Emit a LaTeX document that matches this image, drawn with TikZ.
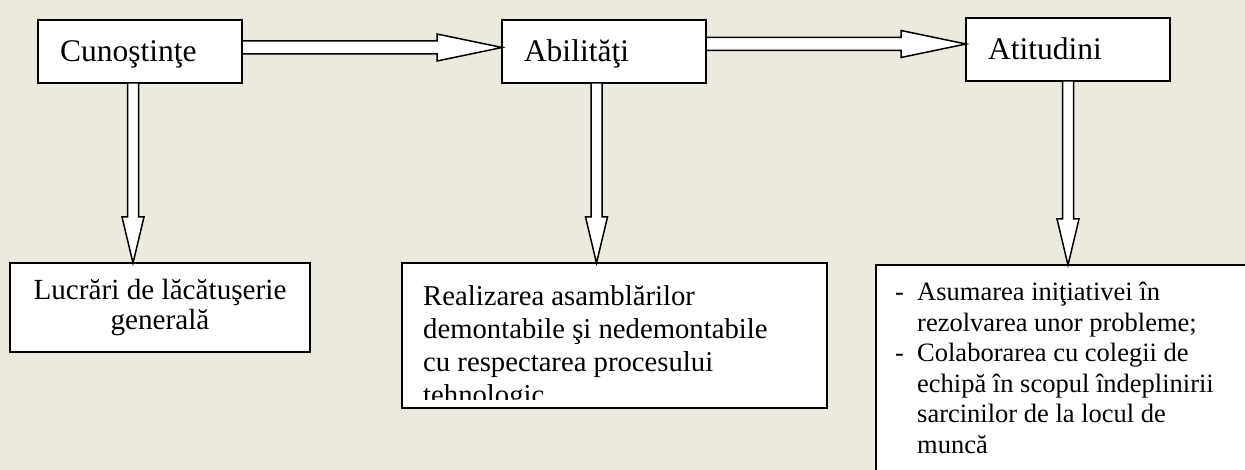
\documentclass[tikz,border=0pt]{standalone}
\usepackage{fontspec}
\setmainfont{Liberation Serif}
\usetikzlibrary{calc}
\definecolor{paper}{RGB}{236,233,223}

\tikzset{
  topbox/.style={draw, line width=2pt, fill=white, outer sep=0pt, anchor=north west,
    minimum width=204pt, minimum height=63pt, text width=160pt, inner xsep=22pt,
    align=left, font=\fontsize{31.5}{36}\selectfont, text height=24pt, text depth=3pt},
  lowbox/.style={draw, line width=2pt, fill=white, outer sep=0pt, anchor=north west},
  txt/.style={anchor=north west, inner sep=0pt, align=left},
  blockarrow/.style={draw, fill=white, line width=1.5pt, line join=miter}
}

% hollow block arrows: from node, to node, y or x of the shaft (px)
\newcommand{\harrow}[3]{%
  \filldraw[blockarrow] let \p1=(#1.east), \p2=(#2.west) in
    (\x1,-#3pt+6.5pt) -- (\x2-65pt,-#3pt+6.5pt) -- (\x2-65pt,-#3pt+13.5pt)
    -- (\x2,-#3pt) -- (\x2-65pt,-#3pt-13.5pt) -- (\x2-65pt,-#3pt-6.5pt)
    -- (\x1,-#3pt-6.5pt) -- cycle;}
\newcommand{\varrow}[3]{%
  \filldraw[blockarrow] let \p1=(#1.south), \p2=(#2.north) in
    (#3pt-5.5pt,\y1) -- (#3pt-5.5pt,\y2+46pt) -- (#3pt-11pt,\y2+46pt)
    -- (#3pt,\y2) -- (#3pt+11pt,\y2+46pt) -- (#3pt+5.5pt,\y2+46pt)
    -- (#3pt+5.5pt,\y1) -- cycle;}

\begin{document}
\begin{tikzpicture}[x=1pt, y=-1pt]
  \path[use as bounding box] (0,0) rectangle (1245,470);
  \clip (0,0) rectangle (1245,470);
  \fill[paper] (0,0) rectangle (1245,470);

  \node[topbox] (cun) at (38,20) {Cunoştinţe};
  \node[topbox] (abil) at (502,20) {Abilităţi};
  \node[topbox] (atit) at (966,18) {Atitudini};

  \node[lowbox, minimum width=300pt, minimum height=89pt, align=center,
    font=\fontsize{29.2}{30}\selectfont] (lucr) at (10,263)
    {Lucrări de lăcătuşerie\\generală};

  \node[lowbox, minimum width=425pt, minimum height=145pt] (real) at (402,263) {};
  \begin{scope}
    \clip (403,264) rectangle (826,399);
    \node[txt, font=\fontsize{28.7}{33}\selectfont] (realtxt)
      at ([shift={(21,22)}]real.north west)
      {Realizarea asamblărilor\\demontabile şi nedemontabile\\cu respectarea procesului\\tehnologic};
  \end{scope}

  \node[lowbox, minimum width=420pt, minimum height=260pt] (atl) at (876,265) {};
  \node[txt, font=\fontsize{26.5}{30.5}\selectfont] (atltxt)
    at ([shift={(19,17)}]atl.north west)
    {\makebox[22pt][l]{-}Asumarea iniţiativei în\\
     \hspace*{22pt}rezolvarea unor probleme;\\
     \makebox[22pt][l]{-}Colaborarea cu colegii de\\
     \hspace*{22pt}echipă în scopul îndeplinirii\\
     \hspace*{22pt}sarcinilor de la locul de\\
     \hspace*{22pt}muncă};

  \harrow{cun}{abil}{47.5}
  \harrow{abil}{atit}{44}
  \varrow{cun}{lucr}{133}
  \varrow{abil}{real}{596.5}
  \varrow{atit}{atl}{1068}
\end{tikzpicture}
\end{document}
